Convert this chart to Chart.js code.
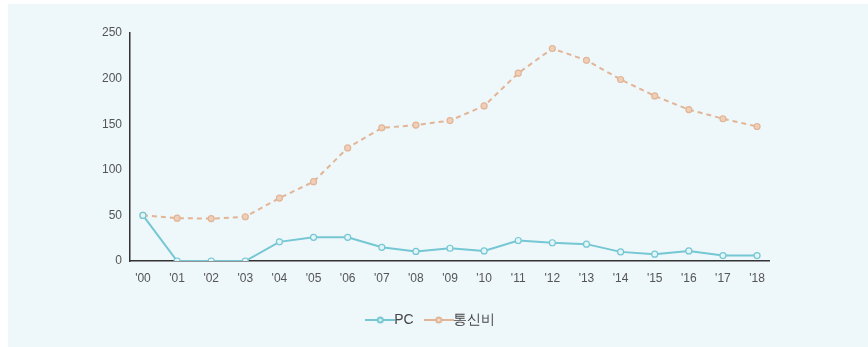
<!DOCTYPE html>
<html>
<head>
<meta charset="utf-8">
<script src="https://cdn.jsdelivr.net/npm/chart.js@4/dist/chart.umd.min.js"></script>
<style>
  html, body { margin: 0; padding: 0; background: #ffffff; }
  #panel { position: absolute; left: 8px; top: 4px; width: 860px; height: 343px; background: #eef7fa; }
  #wrap { position: absolute; left: 0; top: 0; width: 868px; height: 347px; }
</style>
</head>
<body>
<div id="panel"></div>
<div id="wrap"><canvas id="chart"></canvas></div>
<script>
// Years and the two series
var years = ["'00", "'01", "'02", "'03", "'04", "'05", "'06", "'07", "'08", "'09",
             "'10", "'11", "'12", "'13", "'14", "'15", "'16", "'17", "'18"];
var pcValues = [50, 0, 0, 0, 21, 26, 26, 15, 10.5, 14, 11, 22.5, 20, 18.5, 10, 7.5, 11, 6, 6];
var telecomValues = [50, 47, 46.5, 48.5, 69, 87, 124, 146, 149, 154, 170, 206, 233, 220, 199, 181, 166, 156, 147.5];
var yTicks = [0, 50, 100, 150, 200, 250];

var pcColor = '#74c7d3';
var telecomColor = '#e2b596';
var tickFont = { family: 'Liberation Sans Narrow, Liberation Sans', size: 12 };

function toPoints(values) {
    return values.map(function (v, i) { return { x: i, y: v }; });
}

// legend swatch: short line with a small circle in the middle
function legendMark(color, fill) {
    var c = document.createElement('canvas');
    c.width = 30; c.height = 10;
    var g = c.getContext('2d');
    g.strokeStyle = color;
    g.lineWidth = 2;
    g.beginPath(); g.moveTo(0, 5); g.lineTo(30, 5); g.stroke();
    g.fillStyle = fill;
    g.beginPath(); g.arc(15, 5, 2.5, 0, Math.PI * 2); g.fill(); g.stroke();
    return c;
}

var ctx = document.getElementById('chart').getContext('2d');
var chart = new Chart(ctx, {
    type: 'line',
    data: {
        datasets: [{
            label: 'PC',
            data: toPoints(pcValues),
            borderColor: pcColor,
            backgroundColor: '#e4f5f8',
            borderWidth: 2,
            pointRadius: 3,
            pointBorderWidth: 1.2,
            tension: 0,
            legendMark: legendMark(pcColor, '#e4f5f8')
        }, {
            label: '통신비',
            data: toPoints(telecomValues),
            borderColor: telecomColor,
            backgroundColor: '#efcfb8',
            borderWidth: 2,
            borderDash: [5, 4],
            pointRadius: 3,
            pointBorderWidth: 1.2,
            tension: 0,
            legendMark: legendMark(telecomColor, '#f3e0d2')
        }]
    },
    options: {
        responsive: true,
        maintainAspectRatio: false,
        animation: false,
        layout: { padding: { left: 0, right: 0, top: 33, bottom: 10 } },
        plugins: {
            tooltip: { enabled: false },
            legend: {
                position: 'bottom',
                labels: {
                    usePointStyle: true,
                    padding: 18,
                    color: '#444',
                    font: { family: 'Liberation Sans Narrow, Liberation Sans', size: 14 },
                    generateLabels: function (chart) {
                        return chart.data.datasets.map(function (ds, i) {
                            return {
                                text: ds.label,
                                pointStyle: ds.legendMark,
                                fontColor: '#444',
                                datasetIndex: i,
                                hidden: false,
                                lineWidth: 0
                            };
                        });
                    }
                }
            }
        },
        scales: {
            x: {
                type: 'linear',
                min: -0.38,
                max: 18.35,
                grid: { display: false, drawTicks: false },
                border: { display: true, color: '#333', width: 1.5 },
                afterBuildTicks: function (scale) {
                    scale.ticks = years.map(function (y, i) { return { value: i }; });
                },
                afterFit: function (scale) { scale.height = 34; },
                ticks: {
                    padding: 10,
                    color: '#555',
                    font: tickFont,
                    maxRotation: 0,
                    autoSkip: false,
                    callback: function (v) { return years[v]; }
                }
            },
            y: {
                min: 0,
                max: 250,
                grid: { display: false, drawTicks: false },
                border: { display: true, color: '#333', width: 1.5 },
                afterBuildTicks: function (scale) {
                    scale.ticks = yTicks.map(function (v) { return { value: v }; });
                },
                afterFit: function (scale) { scale.width = 130; },
                ticks: { padding: 8, color: '#555', font: tickFont }
            },
            // empty right-hand strip so the plot ends at x≈769 while the legend stays centred on the page
            spacer: {
                type: 'linear',
                position: 'right',
                grid: { display: false, drawTicks: false },
                border: { display: false },
                ticks: { display: false },
                afterFit: function (scale) { scale.width = 99; }
            }
        }
    }
});
</script>
</body>
</html>
